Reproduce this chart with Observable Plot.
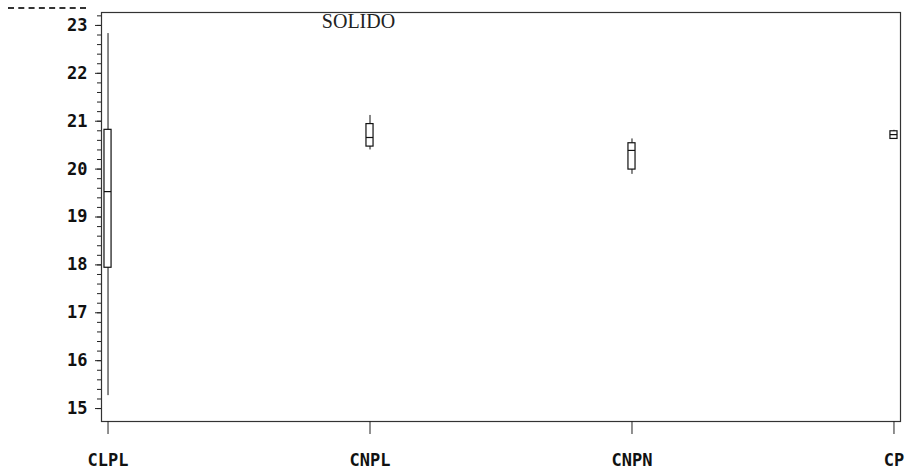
<!DOCTYPE html>
<html>
<head>
<meta charset="utf-8">
<script src="https://cdn.jsdelivr.net/npm/d3@7"></script>
<script src="https://cdn.jsdelivr.net/npm/@observablehq/plot@0.6"></script>
<style>
  html, body { margin: 0; padding: 0; background: #fff; }
  #wrap { position: relative; width: 912px; height: 473px; }
  #dash { position: absolute; left: 8px; top: 7px; width: 78px; border-top: 2px dashed #333; }
</style>
</head>
<body>
<div id="wrap"><div id="dash"></div></div>
<script>
const categories = ["CLPL", "CNPL", "CNPN", "CP"];
const mins    = [15.27, 20.40, 19.89, 20.62];
const q1s     = [17.94, 20.47, 19.99, 20.63];
const medians = [19.53, 20.66, 20.39, 20.72];
const q3s     = [20.82, 20.94, 20.54, 20.79];
const maxs    = [22.83, 21.12, 20.63, 20.81];
const yTicks  = [15, 16, 17, 18, 19, 20, 21, 22, 23];
const title   = "SOLIDO";

const rows = categories.map((c, i) => ({
  cat: c, min: mins[i], q1: q1s[i], med: medians[i], q3: q3s[i], max: maxs[i]
}));
const minorTicks = d3.range(15, 23.21, 0.2).map(v => +v.toFixed(1));

const chart = Plot.plot({
  width: 912,
  height: 473,
  marginLeft: 101,
  marginRight: 12,
  marginTop: 12,
  marginBottom: 52,
  style: { fontFamily: "DejaVu Sans Mono", color: "#111", background: "transparent" },
  x: { type: "band", domain: categories, paddingInner: 0.973, paddingOuter: 0.0114, round: false, label: null },
  y: { domain: [14.73, 23.27], label: null },
  marks: [
    Plot.frame({ stroke: "#333", strokeWidth: 1.2 }),
    Plot.axisY({ ticks: minorTicks, tickSize: 4, tickFormat: () => "", stroke: "#222" }),
    Plot.axisY({ ticks: yTicks, tickSize: 6, tickPadding: 8, fontSize: 17, fontWeight: "bold",
                 stroke: "#222", style: { letterSpacing: "2px" } }),
    Plot.axisX({ tickSize: 13, tickPadding: 19, fontSize: 17, fontWeight: "bold",
                 stroke: "#222", style: { letterSpacing: "2px" } }),
    Plot.ruleX(rows, { x: "cat", y1: "min", y2: "max", stroke: "#111", strokeWidth: 1 }),
    Plot.barY(rows, { x: "cat", y1: "q1", y2: "q3", fill: "white", stroke: "#111", strokeWidth: 1.2 }),
    Plot.tickY(rows, { x: "cat", y: "med", stroke: "#111", strokeWidth: 1.2 }),
    Plot.text([title], { frameAnchor: "top-left", dx: 257, dy: 1, lineAnchor: "top", text: d => d,
                         fontFamily: "Liberation Serif", fontSize: 20, fill: "#222", textAnchor: "middle" })
  ]
});
document.getElementById("wrap").appendChild(chart);
</script>
</body>
</html>
